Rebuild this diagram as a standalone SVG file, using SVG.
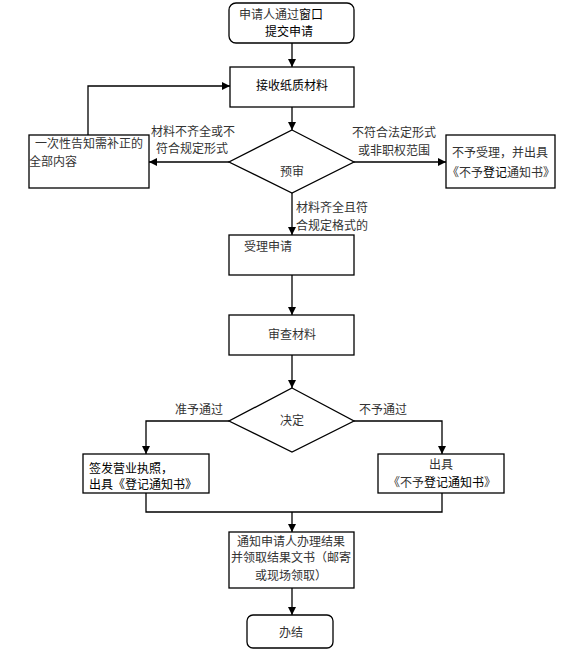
<svg xmlns="http://www.w3.org/2000/svg" width="584" height="670" viewBox="0 0 584 670">
<defs>
<marker id="arr" markerWidth="9" markerHeight="8" refX="8" refY="4" orient="auto" markerUnits="userSpaceOnUse">
<path d="M0,0 L8,4 L0,8 z" fill="#000"/>
</marker>
<style>
.box{fill:#fff;stroke:#000;stroke-width:1.3}
.ln{fill:none;stroke:#000;stroke-width:1.3}
.t{font-family:"Noto Sans CJK SC","Noto Sans",sans-serif;font-size:12px;fill:#333}
.k{fill:#000}
.m{text-anchor:middle}
</style>
</defs>
<rect width="584" height="670" fill="#fff"/>
<g id="connectors">
<line class="ln" x1="292" y1="43" x2="292" y2="67" marker-end="url(#arr)"/>
<line class="ln" x1="292" y1="107" x2="292" y2="130" marker-end="url(#arr)"/>
<line class="ln" x1="229" y1="162" x2="149" y2="162" marker-end="url(#arr)"/>
<line class="ln" x1="354" y1="162" x2="446" y2="162" marker-end="url(#arr)"/>
<polyline class="ln" points="88,135 88,86 230,86" marker-end="url(#arr)"/>
<line class="ln" x1="292" y1="193" x2="292" y2="235" marker-end="url(#arr)"/>
<line class="ln" x1="292" y1="275" x2="292" y2="315" marker-end="url(#arr)"/>
<line class="ln" x1="292" y1="355" x2="292" y2="388" marker-end="url(#arr)"/>
<polyline class="ln" points="229,421 146,421 146,454" marker-end="url(#arr)"/>
<polyline class="ln" points="354,421 442,421 442,454" marker-end="url(#arr)"/>
<polyline class="ln" points="146,493 146,512 442,512 442,493"/>
<line class="ln" x1="292" y1="512" x2="292" y2="532" marker-end="url(#arr)"/>
<line class="ln" x1="292" y1="588" x2="292" y2="615" marker-end="url(#arr)"/>
<text class="t" x="151" y="136">材料不齐全或不</text>
<text class="t" x="156" y="153">符合规定形式</text>
<text class="t" x="352" y="137">不符合法定形式</text>
<text class="t" x="358" y="155">或非职权范围</text>
<text class="t" x="296" y="212">材料齐全且符</text>
<text class="t" x="296" y="230">合规定格式的</text>
<text class="t" x="175" y="414">准予通过</text>
<text class="t" x="359" y="414">不予通过</text>
</g>
<g id="start">
<rect class="box" x="229" y="3" width="125" height="40" rx="7"/>
<text class="t" x="239" y="19">申请人通过<tspan class="k">窗口</tspan></text>
<text class="t k" x="265" y="36">提交申请</text>
</g>
<g id="receive">
<rect class="box" x="230" y="67" width="124" height="40"/>
<text class="t k m" x="292" y="90">接收纸质材料</text>
</g>
<g id="precheck">
<polygon class="box" points="292,130 354,162 292,193 229,162"/>
<text class="t m" x="292" y="176">预审</text>
</g>
<g id="notify-supplement">
<rect class="box" x="29" y="135" width="120" height="53"/>
<text class="t" x="35" y="148">一次性告知需补正的</text>
<text class="t" x="29" y="166">全部内容</text>
</g>
<g id="reject">
<rect class="box" x="446" y="135" width="109" height="53"/>
<text class="t" x="452" y="157">不予受理，并出具</text>
<text class="t" x="447" y="177">《不予<tspan class="k">登记</tspan>通知书》</text>
</g>
<g id="accept">
<rect class="box" x="229" y="235" width="125" height="40"/>
<text class="t" x="244" y="251">受理申请</text>
</g>
<g id="review">
<rect class="box" x="229" y="315" width="125" height="40"/>
<text class="t m" x="292" y="339">审查材料</text>
</g>
<g id="decision">
<polygon class="box" points="292,388 354,421 292,452 229,421"/>
<text class="t m" x="292" y="425">决定</text>
</g>
<g id="approve">
<rect class="box" x="83" y="454" width="126" height="39"/>
<text class="t k" x="89" y="473">签发营业执照，</text>
<text class="t k" x="89" y="489">出具《登记通知书》</text>
</g>
<g id="deny">
<rect class="box" x="378" y="454" width="126" height="39"/>
<text class="t m" x="441" y="469">出具</text>
<text class="t m" x="442" y="487">《不予<tspan class="k">登记通知书</tspan>》</text>
</g>
<g id="notify-result">
<rect class="box" x="229" y="532" width="125" height="56"/>
<text class="t m" x="291" y="546">通知申请人办理结果</text>
<text class="t m" x="291" y="562">并领取结果文书（邮寄</text>
<text class="t m" x="291" y="580">或现场领取）</text>
</g>
<g id="end">
<rect class="box" x="247" y="615" width="86" height="33" rx="6"/>
<text class="t m" x="291" y="637">办结</text>
</g>
</svg>
